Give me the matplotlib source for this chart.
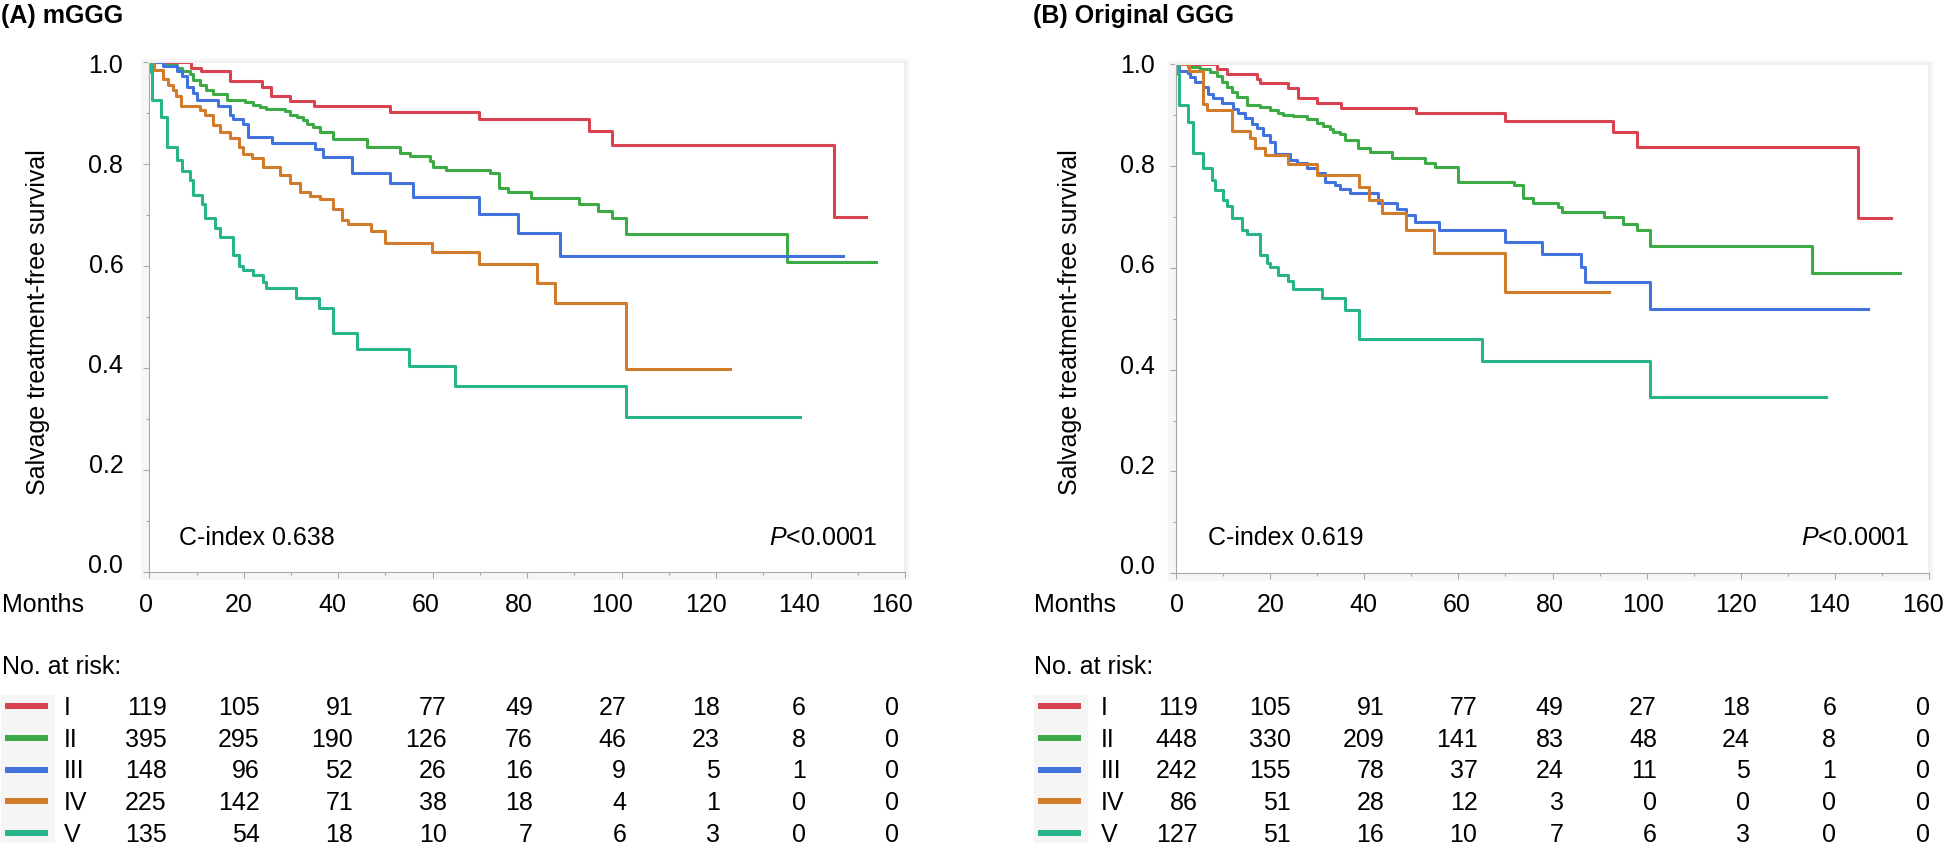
import matplotlib
matplotlib.use('Agg')
import matplotlib.pyplot as plt
from matplotlib.patches import Rectangle
from matplotlib.lines import Line2D
from matplotlib.ticker import MultipleLocator

plt.rcParams['font.family'] = ['Liberation Sans', 'DejaVu Sans']
plt.rcParams['mathtext.fontset'] = 'custom'
plt.rcParams['mathtext.it'] = 'Liberation Sans:italic'
plt.rcParams['mathtext.rm'] = 'Liberation Sans'

# ---- data ----
groups = ['I', 'II', 'III', 'IV', 'V']
colors = ['#d8434f', '#3cab46', '#4272dc', '#d27b2b', '#27b48b']
months = [0, 20, 40, 60, 80, 100, 120, 140, 160]

# (A) mGGG  - KM steps: time of each drop, survival after the drop (last point = censoring end)
a1_t = [0, 8.9, 10.9, 17.1, 23.8, 25.7, 29.8, 34.9, 50.9, 69.8, 93.0, 98.0, 145.0, 151.8]
a1_s = [1.0, 0.989, 0.982, 0.963, 0.952, 0.934, 0.924, 0.914, 0.903, 0.889, 0.866, 0.837, 0.697, 0.697]
a2_t = [0, 3.0, 5.8, 6.9, 8.6, 9.3, 10.7, 12.1, 13.5, 16.4, 20.3, 22.0, 23.4, 24.8, 28.7, 29.8,
        31.2, 32.6, 33.3, 34.7, 36.1, 38.9, 46.0, 53.1, 55.2, 59.4, 60.1, 62.9, 72.1, 74.1, 76.0,
        80.9, 91.0, 95.0, 98.0, 100.9, 135.0, 153.8]
a2_s = [1.0, 0.995, 0.989, 0.983, 0.977, 0.965, 0.955, 0.946, 0.938, 0.927, 0.923, 0.916, 0.912, 0.908, 0.905, 0.897,
        0.892, 0.887, 0.879, 0.874, 0.863, 0.850, 0.833, 0.822, 0.817, 0.807, 0.795, 0.789, 0.782, 0.753, 0.745,
        0.734, 0.722, 0.709, 0.694, 0.663, 0.608, 0.608]
a3_t = [0, 3.0, 5.8, 6.9, 8.0, 9.3, 10.0, 14.6, 17.0, 17.8, 19.9, 20.8, 25.9, 35.1, 36.8, 42.9,
        51.0, 55.9, 69.8, 78.0, 86.9, 146.9]
a3_s = [1.0, 0.993, 0.983, 0.973, 0.951, 0.939, 0.926, 0.914, 0.897, 0.888, 0.880, 0.853, 0.841, 0.830, 0.815, 0.782,
        0.763, 0.736, 0.703, 0.665, 0.620, 0.620]
a4_t = [0, 0.9, 3.0, 4.0, 5.1, 5.6, 6.7, 10.7, 11.8, 13.5, 14.9, 17.0, 19.0, 19.9, 21.8, 24.1, 27.7,
        29.8, 31.9, 34.0, 36.1, 38.9, 40.8, 42.0, 46.9, 49.9, 59.9, 69.8, 82.0, 85.9, 100.9, 122.9]
a4_s = [1.0, 0.985, 0.967, 0.955, 0.946, 0.933, 0.914, 0.906, 0.897, 0.877, 0.864, 0.851, 0.834, 0.821, 0.812, 0.795, 0.779,
        0.764, 0.746, 0.738, 0.731, 0.712, 0.691, 0.682, 0.670, 0.645, 0.629, 0.604, 0.567, 0.529, 0.399, 0.399]
a5_t = [0, 0.4, 0.6, 2.5, 3.7, 5.8, 6.9, 8.6, 9.2, 11.1, 11.8, 13.9, 14.9, 17.8, 19.0, 19.9, 22.0,
        24.1, 24.8, 31.0, 35.9, 38.8, 43.9, 55.0, 64.8, 100.9, 137.7]
a5_s = [1.0, 0.981, 0.926, 0.893, 0.834, 0.808, 0.786, 0.769, 0.740, 0.722, 0.694, 0.675, 0.658, 0.622, 0.601, 0.593, 0.583,
        0.570, 0.557, 0.538, 0.518, 0.469, 0.438, 0.405, 0.365, 0.305, 0.305]

# (B) Original GGG
b1_t = [0, 8.7, 10.8, 17.2, 17.9, 23.9, 25.9, 29.9, 35.0, 51.0, 69.9, 92.9, 97.9, 144.9, 151.9]
b1_s = [1.0, 0.990, 0.980, 0.971, 0.962, 0.952, 0.933, 0.923, 0.913, 0.903, 0.888, 0.866, 0.837, 0.697, 0.697]
b2_t = [0, 2.7, 5.2, 7.3, 8.7, 9.8, 10.8, 11.9, 13.0, 15.1, 17.9, 20.0, 21.8, 22.8, 25.0, 27.8, 29.9,
        31.3, 32.8, 33.5, 34.9, 35.9, 38.8, 41.3, 45.9, 52.9, 55.1, 60.0, 71.9, 73.8, 75.8, 81.1, 82.0,
        91.0, 94.9, 97.9, 100.8, 135.0, 153.8]
b2_s = [1.0, 0.995, 0.990, 0.985, 0.976, 0.965, 0.954, 0.946, 0.936, 0.919, 0.915, 0.910, 0.903, 0.900, 0.897, 0.892, 0.885,
        0.878, 0.872, 0.867, 0.862, 0.851, 0.835, 0.828, 0.815, 0.805, 0.798, 0.769, 0.762, 0.737, 0.728, 0.720, 0.710,
        0.699, 0.686, 0.674, 0.643, 0.590, 0.590]
b3_t = [0, 0.6, 2.7, 3.0, 4.1, 5.9, 6.9, 8.0, 9.8, 12.2, 13.3, 14.7, 16.1, 17.2, 18.6, 20.0, 21.1, 24.3,
        25.7, 27.8, 29.9, 31.7, 33.8, 34.9, 37.0, 43.0, 46.9, 49.0, 50.8, 55.8, 69.9, 77.8, 86.1, 86.9,
        100.8, 146.9]
b3_s = [1.0, 0.987, 0.983, 0.975, 0.965, 0.954, 0.942, 0.933, 0.923, 0.911, 0.903, 0.893, 0.883, 0.874, 0.861, 0.847, 0.823, 0.811,
        0.805, 0.795, 0.785, 0.769, 0.762, 0.754, 0.746, 0.727, 0.715, 0.704, 0.690, 0.674, 0.651, 0.627, 0.602, 0.571,
        0.519, 0.519]
b4_t = [0, 2.9, 5.7, 6.6, 11.9, 15.8, 16.8, 19.0, 23.9, 29.9, 39.0, 41.0, 43.7, 48.9, 54.8, 69.9, 92.0]
b4_s = [1.0, 0.987, 0.922, 0.910, 0.868, 0.854, 0.836, 0.821, 0.803, 0.783, 0.759, 0.733, 0.707, 0.674, 0.628, 0.552, 0.552]
b5_t = [0, 0.4, 0.8, 2.7, 3.7, 5.9, 7.7, 8.3, 10.1, 10.8, 11.9, 14.0, 15.1, 17.9, 19.3, 20.0, 21.8,
        23.9, 25.0, 31.0, 35.9, 39.0, 65.0, 100.8, 138.0]
b5_s = [1.0, 0.981, 0.919, 0.887, 0.825, 0.795, 0.772, 0.753, 0.733, 0.721, 0.697, 0.674, 0.666, 0.625, 0.609, 0.601, 0.586,
        0.573, 0.558, 0.540, 0.517, 0.461, 0.417, 0.347, 0.347]

# numbers at risk
a_risk = [[119, 105, 91, 77, 49, 27, 18, 6, 0],
          [395, 295, 190, 126, 76, 46, 23, 8, 0],
          [148, 96, 52, 26, 16, 9, 5, 1, 0],
          [225, 142, 71, 38, 18, 4, 1, 0, 0],
          [135, 54, 18, 10, 7, 6, 3, 0, 0]]
b_risk = [[119, 105, 91, 77, 49, 27, 18, 6, 0],
          [448, 330, 209, 141, 83, 48, 24, 8, 0],
          [242, 155, 78, 37, 24, 11, 5, 1, 0],
          [86, 51, 28, 12, 3, 0, 0, 0, 0],
          [127, 51, 16, 10, 7, 6, 3, 0, 0]]

# ---- figure (pixel layout) ----
W, H = 1946, 844
fig = plt.figure(figsize=(W / 100, H / 100), dpi=100)
FS = 18
CAP = 0.358 * FS * 100 / 72     # half cap height in px
DIG = 0.556 * FS * 100 / 72     # digit width in px


def txt(x, y, s, **kw):
    # y = visual centre of the text line, in pixels from the top
    fig.text(x / W, 1 - (y + CAP) / H, s, fontsize=FS, va='baseline', **kw)


def panel(lay, curves, risk, title, cindex):
    l, r, t, b = lay['ax']
    # light grey frame behind the plot area
    fig.add_artist(Rectangle(((l - 8) / W, 1 - (b + 7) / H), (r - l + 11) / W, (b - t + 10) / H,
                             transform=fig.transFigure, color='#f6f6f6', zorder=0))
    ax = fig.add_axes([l / W, 1 - b / H, (r - l) / W, (b - t) / H])
    for (tt, ss), c in zip(curves, colors):
        ax.step(tt, ss, where='post', color=c, lw=2.2)
    ax.set_xlim(0, 160)
    ax.set_ylim(0, 1)
    ax.xaxis.set_major_locator(MultipleLocator(20))
    ax.xaxis.set_minor_locator(MultipleLocator(10))
    ax.yaxis.set_major_locator(MultipleLocator(0.2))
    ax.yaxis.set_minor_locator(MultipleLocator(0.1))
    ax.tick_params(which='both', direction='out', color='#a8a8a8', width=0.8,
                   labelleft=False, labelbottom=False)
    ax.tick_params(which='major', length=4.3)
    ax.tick_params(which='minor', length=2.2)
    for s in ['left', 'bottom']:
        ax.spines[s].set_color('#a8a8a8')
    for s in ['top', 'right']:
        ax.spines[s].set_color('#efefef')
        ax.spines[s].set_linewidth(1.5)

    # y tick labels
    y0, y1 = lay['ylab']
    for v in [0.0, 0.2, 0.4, 0.6, 0.8, 1.0]:
        txt(lay['yl_right'], y0 + (1 - v) * (y1 - y0), f'{v:.1f}', ha='right')
    fig.text(lay['ylabel_x'] / W, 1 - 322 / H, 'Salvage treatment-free survival',
             rotation=90, ha='center', va='center', fontsize=FS)
    fig.text(lay['title_x'] / W, 1 - (14 + CAP) / H, title, fontsize=FS, fontweight='bold', va='baseline')
    txt(lay['ci_x'], 536, 'C-index ' + cindex)
    txt(lay['p_x'], 536, '$P$<0.0001', ha='right')

    # months row + risk table
    c0, k = lay['col']
    txt(lay['left'], 603, 'Months')
    for m in months:
        txt(c0 + k * m, 603, str(m), ha='center')
    txt(lay['left'], 665, 'No. at risk:')
    sx0, sx1 = lay['sw']
    fig.add_artist(Rectangle(((sx0 - 4) / W, 1 - 842 / H), (sx1 - sx0 + 10) / W, 147 / H,
                             transform=fig.transFigure, color='#f5f5f5', zorder=0))
    for i, g in enumerate(groups):
        yy = 705.7 + i * 31.9
        fig.add_artist(Line2D([sx0 / W, sx1 / W], [1 - yy / H] * 2, transform=fig.transFigure,
                              color=colors[i], lw=4.3, solid_capstyle='butt'))
        txt(lay['roman'], yy, g)
    for j, m in enumerate(months):
        nd = max(len(str(row[j])) for row in risk)
        xr = c0 + k * m + nd * DIG / 2
        for i, row in enumerate(risk):
            txt(xr, 705.7 + i * 31.9, str(row[j]), ha='right')


lay_a = dict(ax=(149.3, 905, 62.3, 572.3), ylab=(64, 564.3), yl_right=123.3, ylabel_x=38.3,
             title_x=1, ci_x=179.3, p_x=877, col=(145.7, 4.666), left=2, sw=(5, 47.7), roman=64)
lay_b = dict(ax=(1175.7, 1929.3, 64, 573.3), ylab=(64, 565), yl_right=1155, ylabel_x=1070,
             title_x=1033.3, ci_x=1207.7, p_x=1909, col=(1177, 4.66), left=1034.3, sw=(1038.3, 1081),
             roman=1100.7)

panel(lay_a, [(a1_t, a1_s), (a2_t, a2_s), (a3_t, a3_s), (a4_t, a4_s), (a5_t, a5_s)],
      a_risk, '(A) mGGG', '0.638')
panel(lay_b, [(b1_t, b1_s), (b2_t, b2_s), (b3_t, b3_s), (b4_t, b4_s), (b5_t, b5_s)],
      b_risk, '(B) Original GGG', '0.619')

fig.savefig('out.png', dpi=100)
